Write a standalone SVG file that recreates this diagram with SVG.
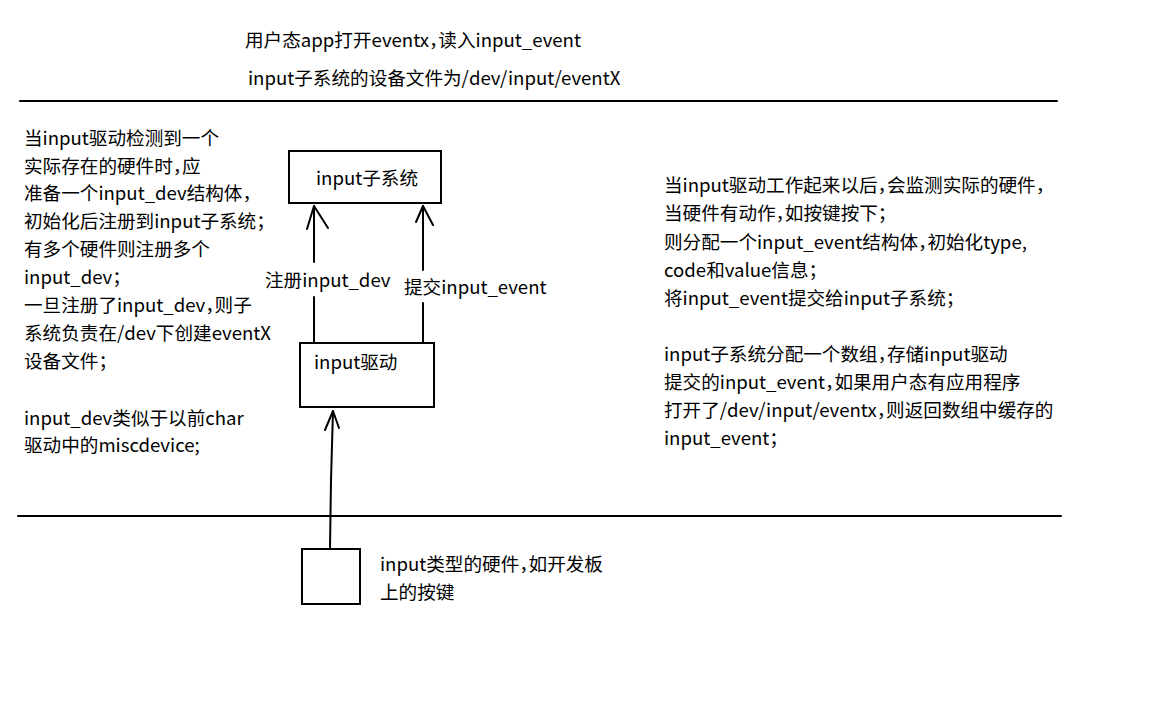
<svg xmlns="http://www.w3.org/2000/svg" width="1172" height="702" viewBox="0 0 1172 702">
<style>
text{font-family:"Noto Sans CJK SC","Noto Sans",sans-serif;font-size:18.6px;fill:#000;font-feature-settings:"halt"}
.b{fill:#fff;stroke:#000;stroke-width:2}
.l{fill:none;stroke:#000;stroke-width:2;stroke-linecap:round;stroke-linejoin:round}
</style>
<rect width="1172" height="702" fill="#fff"/>
<g id="top-text">
<text x="245" y="47">用户态app打开eventx，读入input_event</text>
<text x="248" y="85">input子系统的设备文件为/dev/input/eventX</text>
</g>
<g id="dividers">
<line class="l" x1="20" y1="101" x2="1057" y2="101" stroke-linecap="butt"/>
<line class="l" x1="18" y1="516" x2="1061" y2="516" stroke-linecap="butt"/>
</g>
<g id="node-subsystem">
<rect class="b" x="289" y="151" width="152" height="52"/>
<text x="316" y="185">input子系统</text>
</g>
<g id="node-driver">
<rect class="b" x="300" y="343" width="134" height="64"/>
<text x="314" y="369">input驱动</text>
</g>
<g id="node-hardware">
<rect class="b" x="302" y="549" width="58" height="55"/>
<text x="380" y="571">input类型的硬件，如开发板</text>
<text x="380" y="599">上的按键</text>
</g>
<g id="connectors">
<path class="l" d="M314 343 V297 M314 262 V206"/>
<path class="l" d="M307 229 L314 206 L328 228"/>
<path class="l" d="M423 343 V303 M423 270 V206"/>
<path class="l" d="M416 222 L423 206 L433 225"/>
<path class="l" d="M330 549 L331 480 L333 411"/>
<path class="l" d="M325 430 L333 411 L339 428"/>
</g>
<g id="connector-labels">
<text x="265" y="287">注册input_dev</text>
<text x="404" y="294">提交input_event</text>
</g>
<g id="left-notes">
<text x="24" y="145">当input驱动检测到一个</text>
<text x="24" y="173">实际存在的硬件时，应</text>
<text x="24" y="200">准备一个input_dev结构体，</text>
<text x="24" y="228">初始化后注册到input子系统；</text>
<text x="24" y="256">有多个硬件则注册多个</text>
<text x="24" y="284">input_dev；</text>
<text x="24" y="312">一旦注册了input_dev，则子</text>
<text x="24" y="340">系统负责在/dev下创建eventX</text>
<text x="24" y="368">设备文件；</text>
<text x="24" y="425">input_dev类似于以前char</text>
<text x="24" y="452">驱动中的miscdevice;</text>
</g>
<g id="right-notes">
<text x="664" y="192">当input驱动工作起来以后，会监测实际的硬件，</text>
<text x="664" y="220">当硬件有动作，如按键按下；</text>
<text x="664" y="249">则分配一个input_event结构体，初始化type,</text>
<text x="664" y="277">code和value信息；</text>
<text x="664" y="305">将input_event提交给input子系统；</text>
<text x="664" y="361">input子系统分配一个数组，存储input驱动</text>
<text x="664" y="389">提交的input_event，如果用户态有应用程序</text>
<text x="664" y="417">打开了/dev/input/eventx，则返回数组中缓存的</text>
<text x="664" y="445">input_event；</text>
</g>
</svg>
